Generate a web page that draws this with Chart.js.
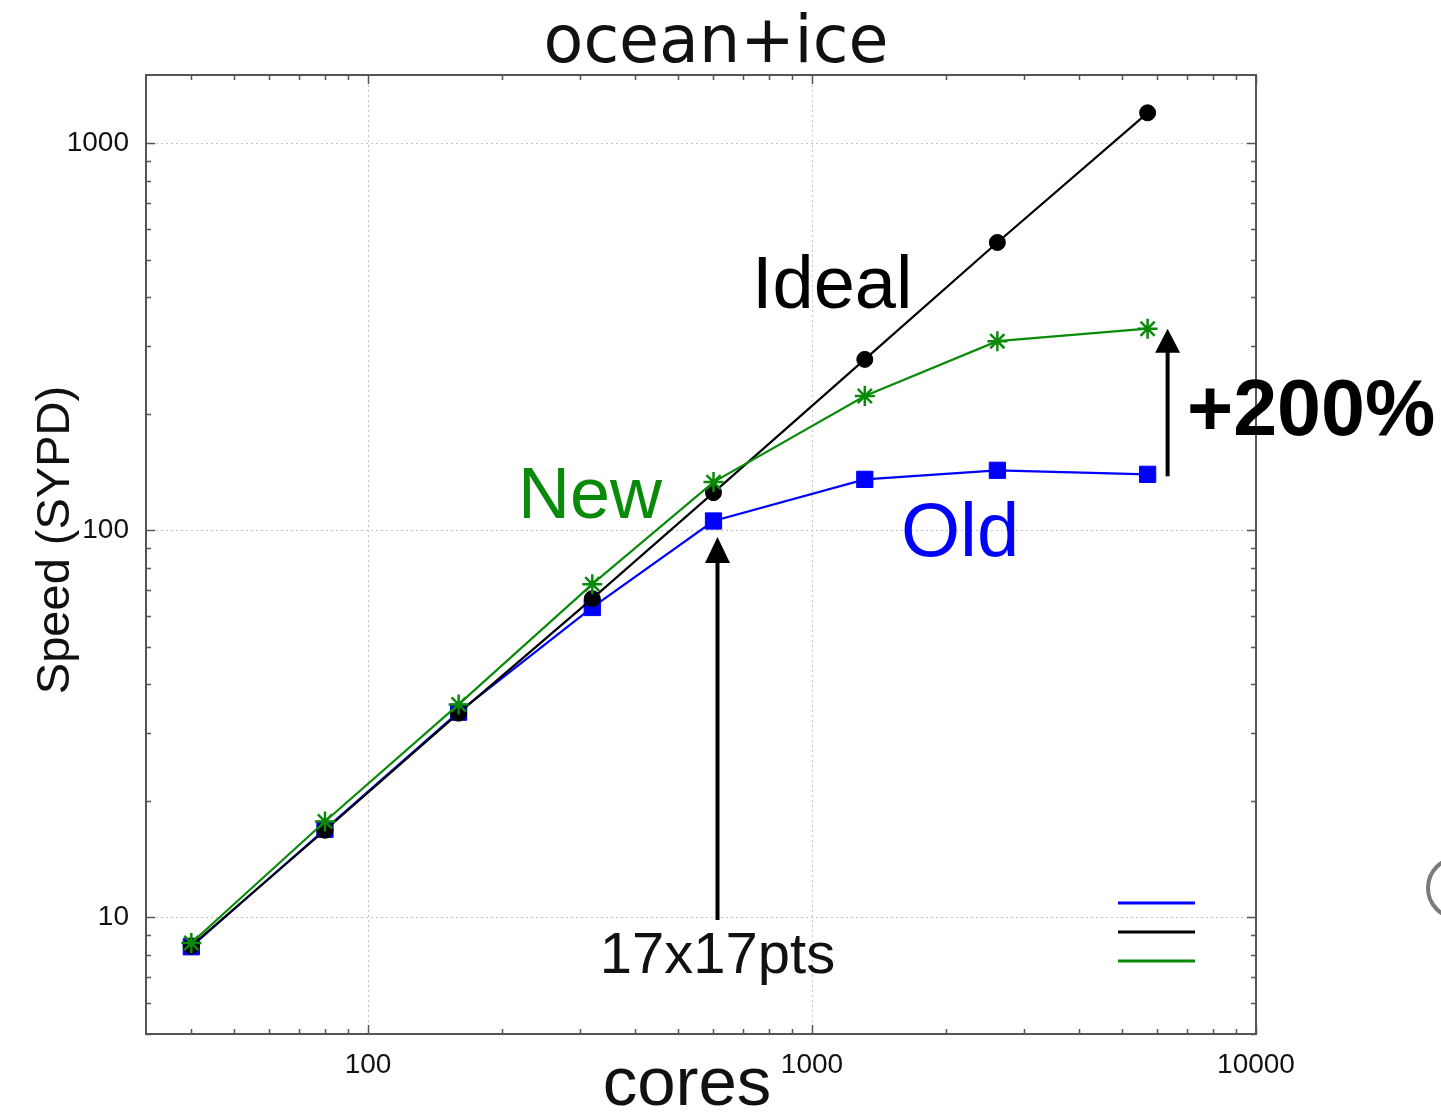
<!DOCTYPE html>
<html>
<head>
<meta charset="utf-8">
<title>ocean+ice</title>
<script src="https://cdn.jsdelivr.net/npm/chart.js@4.4.1/dist/chart.umd.min.js"></script>
<style>
  html, body { margin: 0; padding: 0; background: #fff; }
  canvas { display: block; }
</style>
</head>
<body>
<canvas id="chart" width="1441" height="1115"></canvas>
<script>
// Scaling data: simulated years per day vs. number of cores
const cores      = [40, 80, 160, 320, 600, 1315, 2615, 5700];
const speedOld   = [8.4, 16.9, 33.9, 63.2, 105.7, 135.4, 142.9, 139.5];
const speedIdeal = [8.45, 16.8, 33.7, 66.6, 125.1, 276.4, 554, 1198];
const speedNew   = [8.59, 17.7, 35.5, 72.6, 133.2, 222.3, 308, 331.7];

// Labelled decade ticks
const xTickLabels = [100, 1000, 10000];
const yTickLabels = [10, 100, 1000];

const X_MIN = Math.pow(10, 1.5), X_MAX = 10000;
const Y_MIN = 5, Y_MAX = 1500;

const COLOR_OLD = '#0000ff';
const COLOR_IDEAL = '#000000';
const COLOR_NEW = '#0a8a0a';
const FRAME = '#555555';

// 1..9 x 10^k tick positions inside [lo, hi]
function logTicks(lo, hi) {
  const out = [];
  for (let k = -1; k <= 5; k++) {
    const p = Math.pow(10, k);
    for (let m = 1; m <= 9; m++) {
      const v = Math.round(m * p * 1000) / 1000;
      if (v >= lo - 1e-9 && v <= hi + 1e-9) out.push(v);
    }
  }
  return out;
}

const pts = (ys) => cores.map((c, i) => ({ x: c, y: ys[i] }));

// Frame with inward gnuplot-style tick marks on all four sides
const framePlugin = {
  id: 'frame',
  beforeDatasetsDraw(chart) {
    const { ctx, chartArea: a, scales: { x, y } } = chart;
    ctx.save();
    ctx.strokeStyle = FRAME;
    ctx.lineWidth = 1.5;
    ctx.beginPath();
    x.ticks.forEach(t => {
      const px = Math.round(x.getPixelForValue(t.value)) + 0.5;
      const len = xTickLabels.includes(t.value) ? 9 : 5;
      ctx.moveTo(px, a.bottom); ctx.lineTo(px, a.bottom - len);
      ctx.moveTo(px, a.top); ctx.lineTo(px, a.top + len);
    });
    y.ticks.forEach(t => {
      const py = Math.round(y.getPixelForValue(t.value)) + 0.5;
      const len = yTickLabels.includes(t.value) ? 9 : 5;
      ctx.moveTo(a.left, py); ctx.lineTo(a.left + len, py);
      ctx.moveTo(a.right, py); ctx.lineTo(a.right - len, py);
    });
    ctx.stroke();
    ctx.lineWidth = 2;
    ctx.strokeRect(a.left, a.top, a.right - a.left, a.bottom - a.top);
    ctx.restore();
  }
};

function arrow(ctx, x, yFrom, yTo, headW, headH, shaftW) {
  ctx.save();
  ctx.strokeStyle = '#000';
  ctx.fillStyle = '#000';
  ctx.lineWidth = shaftW;
  ctx.beginPath();
  ctx.moveTo(x, yFrom);
  ctx.lineTo(x, yTo + headH - 2);
  ctx.stroke();
  ctx.beginPath();
  ctx.moveTo(x, yTo);
  ctx.lineTo(x - headW / 2, yTo + headH);
  ctx.lineTo(x + headW / 2, yTo + headH);
  ctx.closePath();
  ctx.fill();
  ctx.restore();
}

function text(ctx, str, x, y, font, color, align) {
  ctx.save();
  ctx.font = font;
  ctx.fillStyle = color;
  ctx.textAlign = align || 'left';
  ctx.textBaseline = 'alphabetic';
  ctx.fillText(str, x, y);
  ctx.restore();
}

// Titles, series labels, key lines and arrows
const annotatePlugin = {
  id: 'annotate',
  afterDraw(chart) {
    const { ctx, chartArea: a, scales: { x, y } } = chart;

    // key: line samples only
    const keys = [COLOR_OLD, COLOR_IDEAL, COLOR_NEW];
    ctx.save();
    ctx.lineWidth = 3;
    keys.forEach((c, i) => {
      ctx.strokeStyle = c;
      ctx.beginPath();
      const ky = 903 + i * 29;
      ctx.moveTo(a.right - 138, ky);
      ctx.lineTo(a.right - 61, ky);
      ctx.stroke();
    });
    ctx.restore();

    // chart title
    text(ctx, 'ocean+ice', 716, 62, '65px "DejaVu Sans"', '#111', 'center');

    // axis titles
    text(ctx, 'cores', 687, 1105, '69px "Liberation Sans"', '#111', 'center');
    ctx.save();
    ctx.translate(69, 540);
    ctx.rotate(-Math.PI / 2);
    text(ctx, 'Speed (SYPD)', 0, 0, '47px "Liberation Sans"', '#111', 'center');
    ctx.restore();

    // series labels
    text(ctx, 'Ideal', 752, 308, '74px "Liberation Sans"', '#000', 'left');
    text(ctx, 'New', 518, 518, '72px "Liberation Sans"', COLOR_NEW, 'left');
    text(ctx, 'Old', 901, 556, '76px "Liberation Sans"', COLOR_OLD, 'left');

    // arrow to the old-code point at 600 cores
    const ax1 = x.getPixelForValue(cores[4]) + 4;
    const tip1 = y.getPixelForValue(speedOld[4]) + 16;
    arrow(ctx, ax1, 920, tip1, 25, 26, 4);
    text(ctx, '17x17pts', ax1, 973, '58px "Liberation Sans"', '#111', 'center');

    // speed-up arrow at the largest core count
    const last = cores.length - 1;
    const ax2 = x.getPixelForValue(cores[last]) + 20;
    arrow(ctx, ax2, y.getPixelForValue(speedOld[last]) + 2, y.getPixelForValue(speedNew[last]), 25, 24, 4);
    text(ctx, '+200%', 1187, 435, 'bold 79px "Liberation Sans"', '#000', 'left');

    // round control at the page edge
    ctx.save();
    ctx.strokeStyle = '#7a7a7a';
    ctx.lineWidth = 4;
    ctx.beginPath();
    ctx.arc(1458, 888, 30, 0, Math.PI * 2);
    ctx.stroke();
    ctx.restore();
  }
};

const gridColor = (labels) => (c) =>
  (c.tick && labels.includes(c.tick.value)) ? '#c4c4c4' : 'rgba(0,0,0,0)';

new Chart(document.getElementById('chart'), {
  type: 'line',
  data: {
    datasets: [
      {
        label: 'Old', data: pts(speedOld), order: 3,
        borderColor: COLOR_OLD, backgroundColor: COLOR_OLD, borderWidth: 2.2,
        pointStyle: 'rect', pointRadius: 11.5, pointBorderWidth: 1,
        pointBackgroundColor: COLOR_OLD, pointBorderColor: COLOR_OLD
      },
      {
        label: 'Ideal', data: pts(speedIdeal), order: 2,
        borderColor: COLOR_IDEAL, backgroundColor: COLOR_IDEAL, borderWidth: 2.2,
        pointStyle: 'circle', pointRadius: 8, pointBorderWidth: 1,
        pointBackgroundColor: COLOR_IDEAL, pointBorderColor: COLOR_IDEAL
      },
      {
        label: 'New', data: pts(speedNew), order: 1,
        borderColor: COLOR_NEW, backgroundColor: COLOR_NEW, borderWidth: 2.2,
        pointStyle: 'star', pointRadius: 10, pointBorderWidth: 2.5,
        pointBackgroundColor: COLOR_NEW, pointBorderColor: COLOR_NEW
      }
    ]
  },
  options: {
    responsive: false,
    animation: false,
    events: [],
    layout: { padding: { left: 0, right: 185, top: 75, bottom: 0 } },
    plugins: { legend: { display: false }, tooltip: { enabled: false }, title: { display: false } },
    elements: { line: { tension: 0 } },
    scales: {
      x: {
        type: 'logarithmic', min: X_MIN, max: X_MAX,
        afterBuildTicks: (s) => { s.ticks = logTicks(X_MIN, X_MAX).map(v => ({ value: v })); },
        afterFit: (s) => { s.height = 81; },
        grid: { color: gridColor(xTickLabels), lineWidth: 1, drawTicks: false },
        border: { display: false, dash: [2, 3] },
        ticks: {
          autoSkip: false, maxRotation: 0, minRotation: 0, padding: 14,
          color: '#111', font: { family: 'Liberation Sans', size: 28 },
          callback: (v) => xTickLabels.includes(v) ? String(v) : ''
        }
      },
      y: {
        type: 'logarithmic', min: Y_MIN, max: Y_MAX,
        afterBuildTicks: (s) => { s.ticks = logTicks(Y_MIN, Y_MAX).map(v => ({ value: v })); },
        afterFit: (s) => { s.width = 146; },
        grid: { color: gridColor(yTickLabels), lineWidth: 1, drawTicks: false },
        border: { display: false, dash: [2, 3] },
        ticks: {
          autoSkip: false, padding: 17,
          color: '#111', font: { family: 'Liberation Sans', size: 28 },
          callback: (v) => yTickLabels.includes(v) ? String(v) : ''
        }
      }
    }
  },
  plugins: [framePlugin, annotatePlugin]
});
</script>
</body>
</html>
